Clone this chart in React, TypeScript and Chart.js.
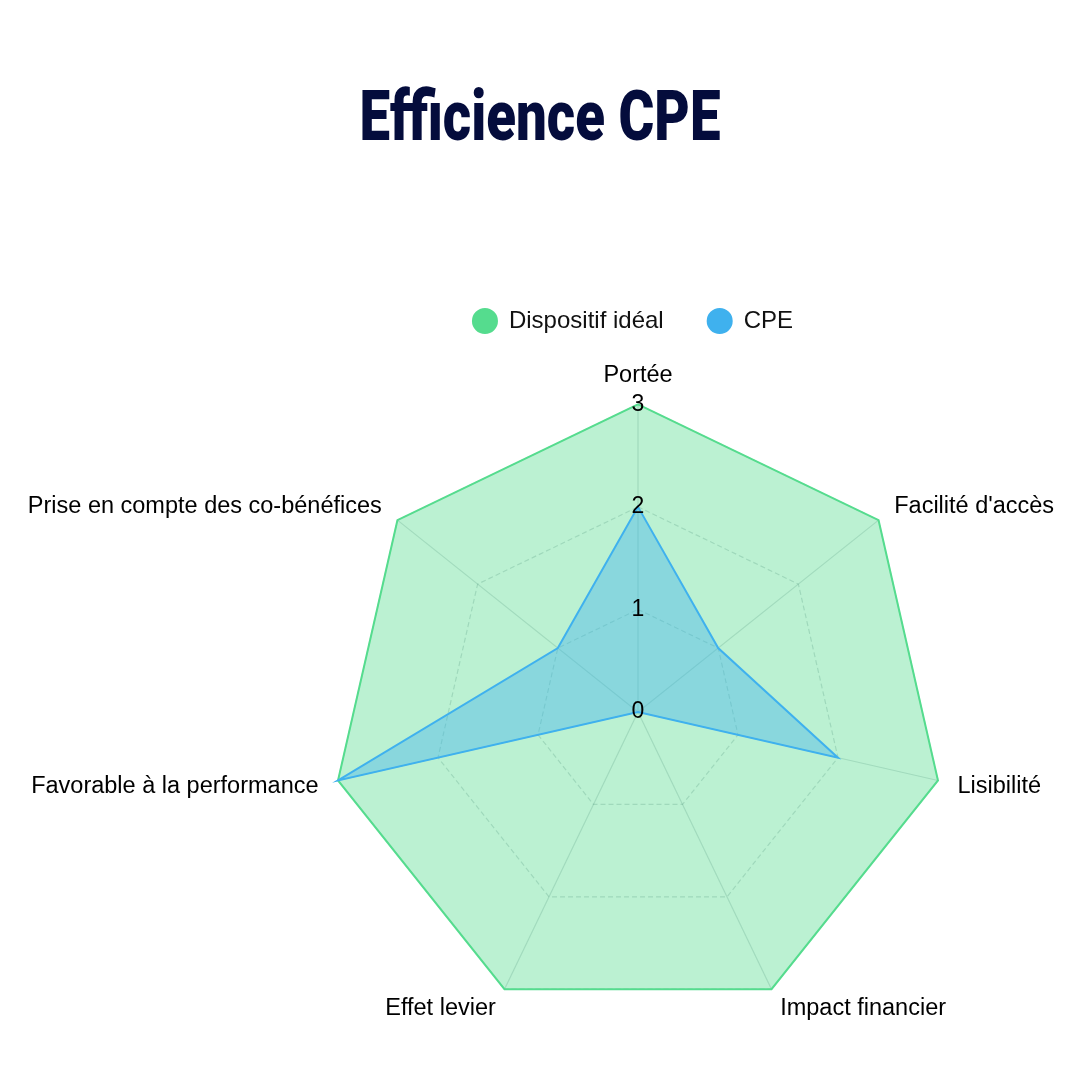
import React, { useEffect, useRef } from "react";
import { Chart, registerables } from "chart.js";

Chart.register(...registerables);

const categories = [
  "Portée",
  "Facilité d'accès",
  "Lisibilité",
  "Impact financier",
  "Effet levier",
  "Favorable à la performance",
  "Prise en compte des co-bénéfices",
];
const idealValues = [3, 3, 3, 3, 3, 3, 3];
const cpeValues = [2, 1, 2, 0, 0, 3, 1];
const seriesNames = ["Dispositif idéal", "CPE"];
const titleText = "Efficience CPE";

const FONT = "'Liberation Sans', Arial, sans-serif";
const TICK_SIZE = 23;
// the canvas is wider than the page so that Chart.js's label fitting leaves the radar large
const CANVAS_LEFT = -4;
const CANVAS_W = 1274;
const CANVAS_H = 1080;

// draws the centre tick label ("0"), which Chart.js skips for radial scales
const zeroTickPlugin = {
  id: "zeroTick",
  afterDatasetsDraw(chart: any) {
    const s = chart.scales.r;
    if (!s || !s.ticks || !s.ticks.length) return;
    const ctx = chart.ctx;
    const p = s.getPointPositionForValue(0, s.ticks[0].value);
    ctx.save();
    ctx.font = `${TICK_SIZE}px ${FONT}`;
    ctx.fillStyle = "#000";
    ctx.textAlign = "center";
    ctx.textBaseline = "middle";
    ctx.fillText(String(s.ticks[0].label), p.x, p.y);
    ctx.restore();
  },
};

export default function App() {
  const ref = useRef<HTMLCanvasElement | null>(null);
  useEffect(() => {
    if (!ref.current) return;
    const chart = new Chart(ref.current, {
      type: "radar",
      data: {
        labels: categories,
        datasets: [
          {
            label: seriesNames[0],
            data: idealValues,
            borderColor: "#55dc8e",
            backgroundColor: "rgba(85,220,142,0.4)",
            pointBackgroundColor: "#55dc8e",
            pointBorderColor: "#55dc8e",
            borderWidth: 2,
            pointRadius: 0,
            pointHoverRadius: 0,
            order: 2,
          },
          {
            label: seriesNames[1],
            data: cpeValues,
            borderColor: "#3fb1ee",
            backgroundColor: "rgba(63,177,238,0.4)",
            pointBackgroundColor: "#3fb1ee",
            pointBorderColor: "#3fb1ee",
            borderWidth: 2,
            pointRadius: 0,
            pointHoverRadius: 0,
            order: 1,
          },
        ],
      },
      plugins: [zeroTickPlugin],
      options: {
        animation: false,
        responsive: false,
        layout: { padding: { left: 0, right: 0, bottom: 38.4, top: 265 } },
        plugins: {
          title: { display: false },
          legend: {
            labels: {
              usePointStyle: true,
              pointStyle: "circle",
              boxWidth: 24,
              boxHeight: 17,
              padding: 44,
              color: "#111",
              font: { family: FONT, size: 24 },
              sort: (a: any, b: any) => a.datasetIndex - b.datasetIndex,
            },
          },
          tooltip: { enabled: false },
        },
        scales: {
          r: {
            min: 0,
            max: 3,
            ticks: {
              stepSize: 1,
              color: "#000",
              showLabelBackdrop: false,
              backdropPadding: -TICK_SIZE / 2,
              z: 1,
              font: { family: FONT, size: TICK_SIZE },
            },
            grid: { color: "rgba(40,70,80,0.22)", lineWidth: 1.2 },
            border: { dash: [5, 3] },
            angleLines: { color: "rgba(40,70,80,0.2)", lineWidth: 1.2 },
            pointLabels: {
              color: "#000",
              padding: (c: any) => (c.index === 0 ? 16.7 : 20),
              font: (c: any) => ({ family: FONT, size: 23.5, lineHeight: c.index === 0 ? 1.047 : 0.1 }),
            },
          },
        },
      },
    });
    return () => chart.destroy();
  }, []);
  return (
    <div style={{ position: "absolute", left: 0, top: 0, width: 1080, height: 1080, background: "#fff", overflow: "hidden" }}>
      <canvas
        ref={ref}
        width={CANVAS_W}
        height={CANVAS_H}
        style={{ position: "absolute", left: CANVAS_LEFT, top: 0, width: CANVAS_W, height: CANVAS_H }}
      />
      <div
        style={{
          position: "absolute",
          left: 0,
          top: 81,
          width: 1080,
          textAlign: "center",
          fontFamily: "Roboto, sans-serif",
          fontWeight: 900,
          fontSize: 70,
          lineHeight: "70px",
          color: "#040c3c",
          transform: "scaleX(0.78)",
          transformOrigin: "540px 0",
          whiteSpace: "nowrap",
        }}
      >
        {titleText}
      </div>
    </div>
  );
}
